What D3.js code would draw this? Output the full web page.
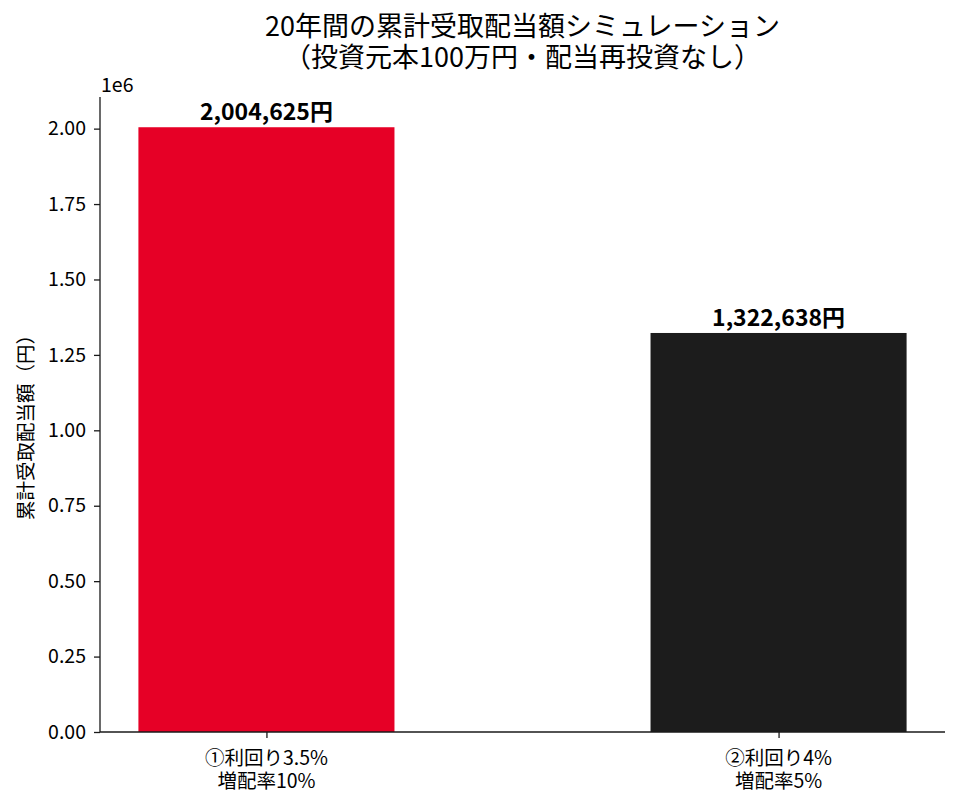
<!DOCTYPE html>
<html>
<head>
<meta charset="utf-8">
<script src="https://cdn.jsdelivr.net/npm/d3@7"></script>
<style>
  body { margin: 0; background: #fff; }
  text { font-family: "Noto Sans CJK JP", "Noto Sans", sans-serif; fill: #000; }
</style>
</head>
<body>
<svg id="chart"></svg>
<script>

// data
var categories = ["①利回り3.5%\n増配率10%", "②利回り4%\n増配率5%"];
var totals = [2004625, 1322638];
var barColors = ["#e60026", "#1c1c1c"];
var yTicks = [0, 250000, 500000, 750000, 1000000, 1250000, 1500000, 1750000, 2000000];

var svgWidth = 960;
var svgHeight = 809;
var margin = {left: 100, right: 15, top: 97, bottom: 77};
var plotW = svgWidth - margin.left - margin.right;
var plotH = svgHeight - margin.top - margin.bottom;

var svg = d3.select("#chart")
    .attr("width", svgWidth)
    .attr("height", svgHeight);

// matplotlib-like: bars at 0,1 with width 0.5, 5% margins
var xScale = d3.scaleLinear()
    .domain([-0.325, 1.325])
    .range([0, plotW]);

var yScale = d3.scaleLinear()
    .domain([0, d3.max(totals) * 1.05])
    .range([plotH, 0]);

var g = svg.append("g")
    .attr("transform", "translate(" + margin.left + "," + margin.top + ")");

// bars
g.selectAll("rect.bar")
    .data(totals)
    .enter()
    .append("rect")
    .attr("class", "bar")
    .attr("x", function(d, i) { return xScale(i - 0.25); })
    .attr("width", function(d, i) { return xScale(i + 0.25) - xScale(i - 0.25); })
    .attr("y", function(d) { return yScale(d); })
    .attr("height", function(d) { return plotH - yScale(d); })
    .attr("fill", function(d, i) { return barColors[i]; });

// value labels
g.selectAll("text.val")
    .data(totals)
    .enter()
    .append("text")
    .attr("class", "val")
    .attr("x", function(d, i) { return xScale(i); })
    .attr("y", function(d) { return yScale(d) - 7; })
    .attr("text-anchor", "middle")
    .style("font-size", "23px")
    .style("font-weight", "bold")
    .text(function(d) { return d3.format(",")(d) + "円"; });

// y axis
var yAxis = d3.axisLeft(yScale)
    .tickValues(yTicks)
    .tickSize(6)
    .tickPadding(8)
    .tickFormat(function(d) { return (d / 1e6).toFixed(2); });

var yG = g.append("g").call(yAxis);
yG.select(".domain").attr("d", "M0,0V" + plotH);

// x axis (labels drawn separately below)
var xAxis = d3.axisBottom(xScale)
    .tickValues([0, 1])
    .tickSize(6)
    .tickFormat("");

var xG = g.append("g")
    .attr("transform", "translate(0," + plotH + ")")
    .call(xAxis);
xG.select(".domain").attr("d", "M0,0H" + plotW);
xG.selectAll(".tick text").remove();

[yG, xG].forEach(function(ax) {
    ax.select(".domain").attr("stroke", "#1a1a1a").attr("stroke-width", 1.3);
    ax.selectAll(".tick line").attr("stroke", "#1a1a1a").attr("stroke-width", 1.3);
    ax.selectAll(".tick text")
        .style("font-family", '"Noto Sans CJK JP", sans-serif')
        .style("font-size", "19.5px")
        .attr("fill", "#000");
});

// two-line x category labels
categories.forEach(function(c, i) {
    c.split("\n").forEach(function(line, k) {
        xG.append("text")
            .attr("x", xScale(i))
            .attr("y", 33 + k * 23)
            .attr("text-anchor", "middle")
            .style("font-size", "19.5px")
            .text(line);
    });
});

// offset label
g.append("text")
    .attr("x", 1)
    .attr("y", -5)
    .style("font-size", "19.5px")
    .text("1e6");

// y label
svg.append("text")
    .attr("transform", "translate(33," + (margin.top + plotH / 2 + 8) + ") rotate(-90)")
    .attr("text-anchor", "middle")
    .style("font-size", "19.5px")
    .text("累計受取配当額（円）");

// title
var title = svg.append("text")
    .attr("text-anchor", "middle")
    .style("font-size", "27px");
title.append("tspan")
    .attr("x", margin.left + plotW / 2)
    .attr("y", 36)
    .text("20年間の累計受取配当額シミュレーション");
title.append("tspan")
    .attr("x", margin.left + plotW / 2)
    .attr("y", 67)
    .text("（投資元本100万円・配当再投資なし）");

</script>
</body>
</html>
